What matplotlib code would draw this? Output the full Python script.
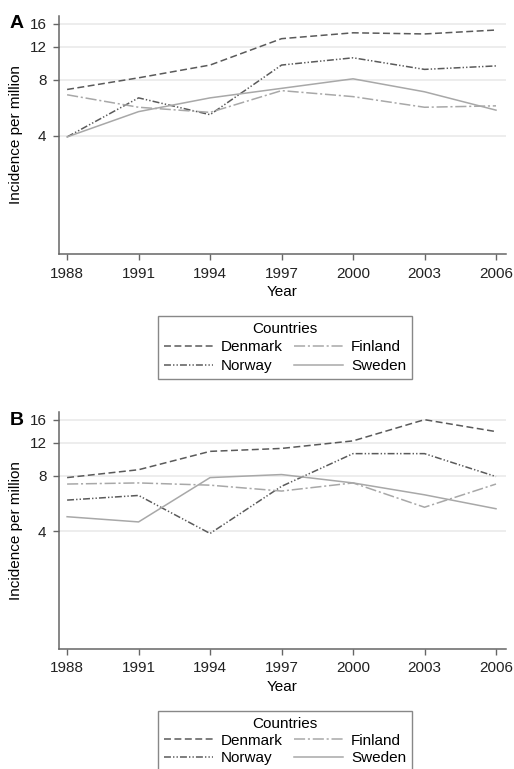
"""Incidence per million by country, two panels (A and B), log-scaled y axis."""

import matplotlib
matplotlib.use("Agg")
import matplotlib.pyplot as plt
from matplotlib.lines import Line2D
from matplotlib.ticker import FixedLocator, NullLocator, FixedFormatter

plt.rcParams["font.family"] = ["Liberation Sans", "DejaVu Sans"]
plt.rcParams["lines.scale_dashes"] = False

# --- Data ------------------------------------------------------------------
years = [1988, 1991, 1994, 1997, 2000, 2003, 2006]
countries = ["Denmark", "Norway", "Finland", "Sweden"]

denmark_a = [7.1, 8.2, 9.6, 13.3, 14.3, 14.1, 14.8]
norway_a = [3.95, 6.4, 5.2, 9.6, 10.5, 9.1, 9.5]
finland_a = [6.65, 5.7, 5.35, 7.0, 6.5, 5.7, 5.8]
sweden_a = [3.95, 5.4, 6.4, 7.2, 8.1, 6.9, 5.5]

denmark_b = [7.8, 8.6, 10.8, 11.2, 12.3, 16.0, 13.8]
norway_b = [5.9, 6.25, 3.9, 7.0, 10.5, 10.5, 7.9]
finland_b = [7.2, 7.3, 7.1, 6.6, 7.3, 5.4, 7.2]
sweden_b = [4.8, 4.5, 7.8, 8.1, 7.3, 6.3, 5.3]

y_ticks = [4, 8, 12, 16]
x_ticks = [1988, 1991, 1994, 1997, 2000, 2003, 2006]

# --- Styling -----------------------------------------------------------------
dark = "#5a5a5a"
light = "#a8a8a8"
styles = {
    "Denmark": dict(color=dark, dashes=(5, 2.5)),
    "Norway": dict(color=dark, dashes=(5, 1.5, 1, 1.5, 1, 1.5)),
    "Finland": dict(color=light, dashes=(8, 2, 1.5, 2)),
    "Sweden": dict(color=light, linestyle="-"),
}
W, H = 514, 769


def panel(rect_px, series, letter):
    left, top, right, bottom = rect_px
    ax = fig.add_axes([left / W, 1 - bottom / H, (right - left) / W, (bottom - top) / H])
    ax.set_yscale("log")
    for name, vals in zip(countries, series):
        ax.plot(years, vals, linewidth=1.1, **styles[name])
    ax.set_xlim(1987.66, 2006.42)
    ax.set_ylim(0.93, 17.6)
    ax.yaxis.set_major_locator(FixedLocator(y_ticks))
    ax.yaxis.set_major_formatter(FixedFormatter([str(t) for t in y_ticks]))
    ax.yaxis.set_minor_locator(NullLocator())
    ax.set_xticks(x_ticks)
    ax.grid(axis="y", color="#ececec", linewidth=1.3)
    ax.set_axisbelow(True)
    for s in ["top", "right"]:
        ax.spines[s].set_visible(False)
    for s in ["left", "bottom"]:
        ax.spines[s].set_color("#666666")
        ax.spines[s].set_linewidth(1.1)
    ax.tick_params(labelsize=11, color="#666666", length=4, width=1,
                   labelcolor="#222222", pad=5)
    ax.set_xlabel("Year", fontsize=11, labelpad=3)
    ax.set_ylabel("Incidence per million", fontsize=11, labelpad=5)
    fig.text(10 / W, 1 - (top + 8) / H, letter, fontsize=14, fontweight="bold",
             ha="left", va="center")
    return ax


def legend(top_px, spacing):
    handles = [Line2D([], [], linewidth=1.1, **styles[n]) for n in countries]
    # two columns: Denmark, Norway | Finland, Sweden
    fig.legend(
        handles, countries, ncol=2, title="Countries", fontsize=11, title_fontsize=11,
        loc="upper center", bbox_to_anchor=(285 / W, 1 - top_px / H),
        frameon=True, fancybox=False, edgecolor="#888888", framealpha=1,
        handlelength=3.2, handletextpad=0.5, columnspacing=0.8,
        labelspacing=spacing, borderpad=0.4,
    )


fig = plt.figure(figsize=(W / 100, H / 100), dpi=100)

panel((59, 16, 506, 254), [denmark_a, norway_a, finland_a, sweden_a], "A")
legend(308, 0.3)
panel((59, 412, 506, 649), [denmark_b, norway_b, finland_b, sweden_b], "B")
legend(703, 0.2)

fig.savefig("out.png", dpi=100)
